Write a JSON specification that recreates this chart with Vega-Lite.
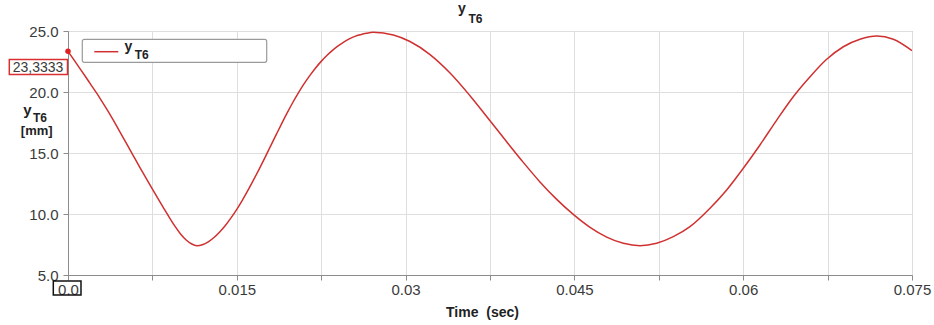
{
  "$schema": "https://vega.github.io/schema/vega-lite/v6.json",
  "width": 844,
  "height": 244,
  "autosize": {"type": "none"},
  "padding": {"left": 68, "top": 31, "right": 22, "bottom": 50},
  "background": "white",
  "config": {
    "view": {"stroke": "#9a9a9a", "strokeWidth": 1},
    "font": "Liberation Sans"
  },
  "datasets": {
    "curve": [
      {"t": 0, "v": 23.3333},
      {"t": 0.0005, "v": 22.67},
      {"t": 0.001, "v": 22.0},
      {"t": 0.0015, "v": 21.33},
      {"t": 0.002, "v": 20.65},
      {"t": 0.0025, "v": 19.97},
      {"t": 0.003, "v": 19.25},
      {"t": 0.0035, "v": 18.51},
      {"t": 0.004, "v": 17.73},
      {"t": 0.0045, "v": 16.92},
      {"t": 0.005, "v": 16.1},
      {"t": 0.0055, "v": 15.28},
      {"t": 0.006, "v": 14.45},
      {"t": 0.0065, "v": 13.64},
      {"t": 0.007, "v": 12.83},
      {"t": 0.0075, "v": 12.04},
      {"t": 0.008, "v": 11.26},
      {"t": 0.0085, "v": 10.49},
      {"t": 0.009, "v": 9.73},
      {"t": 0.0095, "v": 9.0},
      {"t": 0.01, "v": 8.36},
      {"t": 0.0105, "v": 7.87},
      {"t": 0.011, "v": 7.54},
      {"t": 0.01144, "v": 7.4},
      {"t": 0.012, "v": 7.5},
      {"t": 0.0125, "v": 7.74},
      {"t": 0.013, "v": 8.09},
      {"t": 0.0135, "v": 8.55},
      {"t": 0.014, "v": 9.08},
      {"t": 0.0145, "v": 9.7},
      {"t": 0.015, "v": 10.38},
      {"t": 0.0155, "v": 11.14},
      {"t": 0.016, "v": 11.95},
      {"t": 0.0165, "v": 12.81},
      {"t": 0.017, "v": 13.7},
      {"t": 0.0175, "v": 14.62},
      {"t": 0.018, "v": 15.56},
      {"t": 0.0185, "v": 16.5},
      {"t": 0.019, "v": 17.43},
      {"t": 0.0195, "v": 18.33},
      {"t": 0.02, "v": 19.18},
      {"t": 0.0205, "v": 19.97},
      {"t": 0.021, "v": 20.7},
      {"t": 0.0215, "v": 21.36},
      {"t": 0.022, "v": 21.97},
      {"t": 0.0225, "v": 22.51},
      {"t": 0.023, "v": 22.99},
      {"t": 0.0235, "v": 23.41},
      {"t": 0.024, "v": 23.78},
      {"t": 0.0245, "v": 24.09},
      {"t": 0.025, "v": 24.35},
      {"t": 0.0255, "v": 24.56},
      {"t": 0.026, "v": 24.7},
      {"t": 0.0265, "v": 24.81},
      {"t": 0.02713, "v": 24.89},
      {"t": 0.02891, "v": 24.67},
      {"t": 0.03039, "v": 24.14},
      {"t": 0.03217, "v": 23.07},
      {"t": 0.03395, "v": 21.56},
      {"t": 0.03572, "v": 19.7},
      {"t": 0.0375, "v": 17.65},
      {"t": 0.03898, "v": 15.92},
      {"t": 0.04046, "v": 14.23},
      {"t": 0.04194, "v": 12.63},
      {"t": 0.04343, "v": 11.2},
      {"t": 0.0449, "v": 9.97},
      {"t": 0.04639, "v": 8.91},
      {"t": 0.04787, "v": 8.11},
      {"t": 0.04935, "v": 7.6},
      {"t": 0.05083, "v": 7.4},
      {"t": 0.05231, "v": 7.6},
      {"t": 0.05379, "v": 8.14},
      {"t": 0.05527, "v": 8.96},
      {"t": 0.05705, "v": 10.47},
      {"t": 0.05853, "v": 11.97},
      {"t": 0.06001, "v": 13.75},
      {"t": 0.06149, "v": 15.66},
      {"t": 0.06298, "v": 17.7},
      {"t": 0.06445, "v": 19.61},
      {"t": 0.06594, "v": 21.25},
      {"t": 0.06742, "v": 22.68},
      {"t": 0.0689, "v": 23.71},
      {"t": 0.07038, "v": 24.32},
      {"t": 0.07187, "v": 24.59},
      {"t": 0.07334, "v": 24.32},
      {"t": 0.075, "v": 23.39}
    ]
  },
  "layer": [
    {
      "data": {"name": "curve"},
      "mark": {"type": "line", "color": "#d03030", "strokeWidth": 1.5, "interpolate": "monotone", "clip": true},
      "encoding": {
        "x": {
          "field": "t",
          "type": "quantitative",
          "scale": {"domain": [0, 0.075], "nice": false, "zero": false},
          "axis": {
            "values": [0, 0.0075, 0.015, 0.0225, 0.03, 0.0375, 0.045, 0.0525, 0.06, 0.0675, 0.075],
            "labelExpr": "datum.value === 0 ? '0.0' : (round(datum.value * 10000) % 150 === 0 ? '' + datum.value : '')",
            "labelFlush": false,
            "labelOverlap": false,
            "labelBound": false,
            "labelFont": "Liberation Sans",
            "labelFontSize": 15,
            "labelColor": "#3a3a3a",
            "labelPadding": 2,
            "tickSize": 5,
            "tickColor": "#8c8c8c",
            "domainColor": "#8c8c8c",
            "grid": true,
            "gridColor": "#dedede",
            "title": "Time\u00a0\u00a0(sec)",
            "titleFont": "Liberation Sans",
            "titleFontSize": 14,
            "titleFontWeight": "bold",
            "titleColor": "#222222",
            "titleX": 414,
            "titleY": 41,
            "titleBaseline": "alphabetic"
          }
        },
        "y": {
          "field": "v",
          "type": "quantitative",
          "scale": {"domain": [5, 25], "nice": false, "zero": false},
          "axis": {
            "values": [5, 7.5, 10, 12.5, 15, 17.5, 20, 22.5, 25],
            "labelExpr": "datum.value % 5 === 0 ? format(datum.value, '.1f') : ''",
            "labelOverlap": false,
            "labelBound": false,
            "labelFont": "Liberation Sans",
            "labelFontSize": 15,
            "labelColor": "#3a3a3a",
            "labelPadding": 5,
            "tickSize": 5,
            "tickColor": "#8c8c8c",
            "domainColor": "#8c8c8c",
            "grid": true,
            "gridColor": "#dedede",
            "title": null
          }
        }
      }
    },
    {
      "data": {"name": "curve"},
      "transform": [{"filter": "datum.t === 0"}],
      "mark": {"type": "point", "filled": true, "color": "#e02020", "size": 30, "opacity": 1},
      "encoding": {
        "x": {"field": "t", "type": "quantitative"},
        "y": {"field": "v", "type": "quantitative"}
      }
    },
    {
      "data": {"values": [{}]},
      "mark": {"type": "text", "text": "y", "font": "Liberation Sans", "fontSize": 14, "fontWeight": "bold", "color": "#222222", "align": "center", "baseline": "alphabetic"},
      "encoding": {
        "x": {"datum": 0.035012, "type": "quantitative"},
        "y": {"datum": 26.459, "type": "quantitative"}
      }
    },
    {
      "data": {"values": [{}]},
      "mark": {"type": "text", "text": "T6", "font": "Liberation Sans", "fontSize": 12, "fontWeight": "bold", "color": "#222222", "align": "center", "baseline": "alphabetic"},
      "encoding": {
        "x": {"datum": 0.036212, "type": "quantitative"},
        "y": {"datum": 25.68, "type": "quantitative"}
      }
    },
    {
      "data": {"values": [{}]},
      "mark": {"type": "rect", "fill": "white", "stroke": "#d83030", "strokeWidth": 1.5},
      "encoding": {
        "x": {"datum": -0.005216, "type": "quantitative"},
        "x2": {"datum": -0.0000444},
        "y": {"datum": 22.664, "type": "quantitative"},
        "y2": {"datum": 21.434}
      }
    },
    {
      "data": {"values": [{}]},
      "mark": {"type": "text", "text": "23,3333", "font": "Liberation Sans", "fontSize": 14, "color": "#3a3a3a", "align": "center", "baseline": "alphabetic"},
      "encoding": {
        "x": {"datum": -0.002666, "type": "quantitative"},
        "y": {"datum": 21.68, "type": "quantitative"}
      }
    },
    {
      "data": {"values": [{}]},
      "mark": {"type": "rect", "fill": null, "fillOpacity": 0, "stroke": "#111111", "strokeWidth": 1.5},
      "encoding": {
        "x": {"datum": -0.001306, "type": "quantitative"},
        "x2": {"datum": 0.001155},
        "y": {"datum": 4.508, "type": "quantitative"},
        "y2": {"datum": 3.361}
      }
    },
    {
      "data": {"values": [{}]},
      "mark": {"type": "rect", "fill": "white", "stroke": "#9a9a9a", "strokeWidth": 1.2, "cornerRadius": 2},
      "encoding": {
        "x": {"datum": 0.001271, "type": "quantitative"},
        "x2": {"datum": 0.017657},
        "y": {"datum": 24.32, "type": "quantitative"},
        "y2": {"datum": 22.434}
      }
    },
    {
      "data": {"values": [{}]},
      "mark": {"type": "rule", "color": "#d03030", "strokeWidth": 1.5},
      "encoding": {
        "x": {"datum": 0.002337, "type": "quantitative"},
        "x2": {"datum": 0.00447},
        "y": {"datum": 23.303, "type": "quantitative"}
      }
    },
    {
      "data": {"values": [{}]},
      "mark": {"type": "text", "text": "y", "font": "Liberation Sans", "fontSize": 14, "fontWeight": "bold", "color": "#222222", "align": "center", "baseline": "alphabetic"},
      "encoding": {
        "x": {"datum": 0.005358, "type": "quantitative"},
        "y": {"datum": 23.344, "type": "quantitative"}
      }
    },
    {
      "data": {"values": [{}]},
      "mark": {"type": "text", "text": "T6", "font": "Liberation Sans", "fontSize": 12, "fontWeight": "bold", "color": "#222222", "align": "center", "baseline": "alphabetic"},
      "encoding": {
        "x": {"datum": 0.006549, "type": "quantitative"},
        "y": {"datum": 22.68, "type": "quantitative"}
      }
    },
    {
      "data": {"values": [{}]},
      "mark": {"type": "text", "text": "y", "font": "Liberation Sans", "fontSize": 15, "fontWeight": "bold", "color": "#222222", "align": "center", "baseline": "alphabetic"},
      "encoding": {
        "x": {"datum": -0.003599, "type": "quantitative"},
        "y": {"datum": 18.148, "type": "quantitative"}
      }
    },
    {
      "data": {"values": [{}]},
      "mark": {"type": "text", "text": "T6", "font": "Liberation Sans", "fontSize": 12, "fontWeight": "bold", "color": "#222222", "align": "center", "baseline": "alphabetic"},
      "encoding": {
        "x": {"datum": -0.002488, "type": "quantitative"},
        "y": {"datum": 17.566, "type": "quantitative"}
      }
    },
    {
      "data": {"values": [{}]},
      "mark": {"type": "text", "text": "[mm]", "font": "Liberation Sans", "fontSize": 13, "fontWeight": "bold", "color": "#222222", "align": "center", "baseline": "alphabetic"},
      "encoding": {
        "x": {"datum": -0.002781, "type": "quantitative"},
        "y": {"datum": 16.47, "type": "quantitative"}
      }
    }
  ]
}
